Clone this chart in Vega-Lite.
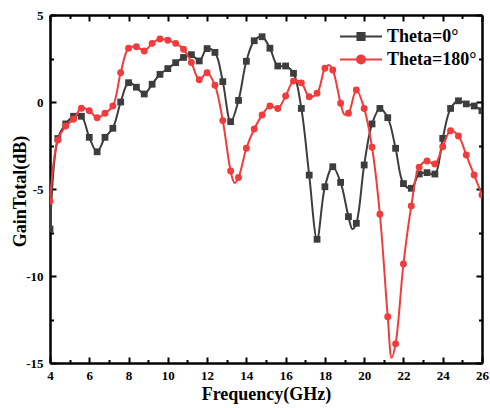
{
  "$schema": "https://vega.github.io/schema/vega-lite/v6.json",
  "width": 432,
  "height": 348,
  "autosize": {"type": "none"},
  "padding": {"left": 50, "top": 15, "right": 8, "bottom": 45},
  "background": "white",
  "config": {
    "view": {"stroke": null},
    "axis": {
      "grid": false,
      "labelFont": "Liberation Serif",
      "labelFontSize": 13,
      "labelFontWeight": "bold",
      "labelColor": "black",
      "labelFlush": false,
      "labelOverlap": false,
      "titleFont": "Liberation Serif",
      "titleFontSize": 18,
      "titleFontWeight": "bold",
      "titleColor": "black",
      "domainColor": "black",
      "domainWidth": 2.5,
      "tickColor": "black",
      "tickWidth": 2
    }
  },
  "datasets": {
    "gain": [
      {"Frequency": 4.0, "Gain": -7.3, "Series": "Theta=0°"},
      {"Frequency": 4.4, "Gain": -2.1, "Series": "Theta=0°"},
      {"Frequency": 4.8, "Gain": -1.26, "Series": "Theta=0°"},
      {"Frequency": 5.2, "Gain": -0.82, "Series": "Theta=0°"},
      {"Frequency": 5.6, "Gain": -0.82, "Series": "Theta=0°"},
      {"Frequency": 6.0, "Gain": -2.03, "Series": "Theta=0°"},
      {"Frequency": 6.4, "Gain": -2.86, "Series": "Theta=0°"},
      {"Frequency": 6.8, "Gain": -2.03, "Series": "Theta=0°"},
      {"Frequency": 7.2, "Gain": -1.51, "Series": "Theta=0°"},
      {"Frequency": 7.6, "Gain": 0.0, "Series": "Theta=0°"},
      {"Frequency": 8.0, "Gain": 1.11, "Series": "Theta=0°"},
      {"Frequency": 8.4, "Gain": 0.85, "Series": "Theta=0°"},
      {"Frequency": 8.8, "Gain": 0.46, "Series": "Theta=0°"},
      {"Frequency": 9.2, "Gain": 1.02, "Series": "Theta=0°"},
      {"Frequency": 9.6, "Gain": 1.59, "Series": "Theta=0°"},
      {"Frequency": 10.0, "Gain": 1.92, "Series": "Theta=0°"},
      {"Frequency": 10.4, "Gain": 2.26, "Series": "Theta=0°"},
      {"Frequency": 10.8, "Gain": 2.56, "Series": "Theta=0°"},
      {"Frequency": 11.2, "Gain": 2.72, "Series": "Theta=0°"},
      {"Frequency": 11.6, "Gain": 2.36, "Series": "Theta=0°"},
      {"Frequency": 12.0, "Gain": 3.07, "Series": "Theta=0°"},
      {"Frequency": 12.4, "Gain": 2.85, "Series": "Theta=0°"},
      {"Frequency": 12.8, "Gain": 1.17, "Series": "Theta=0°"},
      {"Frequency": 13.2, "Gain": -1.13, "Series": "Theta=0°"},
      {"Frequency": 13.6, "Gain": 0.09, "Series": "Theta=0°"},
      {"Frequency": 14.0, "Gain": 2.34, "Series": "Theta=0°"},
      {"Frequency": 14.4, "Gain": 3.52, "Series": "Theta=0°"},
      {"Frequency": 14.8, "Gain": 3.75, "Series": "Theta=0°"},
      {"Frequency": 15.2, "Gain": 3.09, "Series": "Theta=0°"},
      {"Frequency": 15.6, "Gain": 2.07, "Series": "Theta=0°"},
      {"Frequency": 16.0, "Gain": 2.07, "Series": "Theta=0°"},
      {"Frequency": 16.4, "Gain": 1.65, "Series": "Theta=0°"},
      {"Frequency": 16.8, "Gain": -0.37, "Series": "Theta=0°"},
      {"Frequency": 17.2, "Gain": -4.2, "Series": "Theta=0°"},
      {"Frequency": 17.6, "Gain": -7.89, "Series": "Theta=0°"},
      {"Frequency": 18.0, "Gain": -4.87, "Series": "Theta=0°"},
      {"Frequency": 18.4, "Gain": -3.72, "Series": "Theta=0°"},
      {"Frequency": 18.8, "Gain": -4.62, "Series": "Theta=0°"},
      {"Frequency": 19.2, "Gain": -6.59, "Series": "Theta=0°"},
      {"Frequency": 19.4, "Gain": -7.3, "Series": "Theta=0°"},
      {"Frequency": 19.6, "Gain": -6.97, "Series": "Theta=0°"},
      {"Frequency": 20.0, "Gain": -3.62, "Series": "Theta=0°"},
      {"Frequency": 20.4, "Gain": -1.26, "Series": "Theta=0°"},
      {"Frequency": 20.8, "Gain": -0.37, "Series": "Theta=0°"},
      {"Frequency": 21.2, "Gain": -0.9, "Series": "Theta=0°"},
      {"Frequency": 21.6, "Gain": -2.66, "Series": "Theta=0°"},
      {"Frequency": 22.0, "Gain": -4.69, "Series": "Theta=0°"},
      {"Frequency": 22.4, "Gain": -4.96, "Series": "Theta=0°"},
      {"Frequency": 22.8, "Gain": -4.14, "Series": "Theta=0°"},
      {"Frequency": 23.2, "Gain": -4.06, "Series": "Theta=0°"},
      {"Frequency": 23.6, "Gain": -4.14, "Series": "Theta=0°"},
      {"Frequency": 24.0, "Gain": -2.09, "Series": "Theta=0°"},
      {"Frequency": 24.4, "Gain": -0.37, "Series": "Theta=0°"},
      {"Frequency": 24.8, "Gain": 0.07, "Series": "Theta=0°"},
      {"Frequency": 25.2, "Gain": -0.11, "Series": "Theta=0°"},
      {"Frequency": 25.6, "Gain": -0.23, "Series": "Theta=0°"},
      {"Frequency": 26.0, "Gain": -0.5, "Series": "Theta=0°"},
      {"Frequency": 4.0, "Gain": -5.7, "Series": "Theta=180°"},
      {"Frequency": 4.4, "Gain": -2.18, "Series": "Theta=180°"},
      {"Frequency": 4.8, "Gain": -1.38, "Series": "Theta=180°"},
      {"Frequency": 5.2, "Gain": -0.99, "Series": "Theta=180°"},
      {"Frequency": 5.6, "Gain": -0.36, "Series": "Theta=180°"},
      {"Frequency": 6.0, "Gain": -0.5, "Series": "Theta=180°"},
      {"Frequency": 6.4, "Gain": -0.9, "Series": "Theta=180°"},
      {"Frequency": 6.8, "Gain": -0.65, "Series": "Theta=180°"},
      {"Frequency": 7.2, "Gain": -0.23, "Series": "Theta=180°"},
      {"Frequency": 7.6, "Gain": 1.68, "Series": "Theta=180°"},
      {"Frequency": 8.0, "Gain": 3.09, "Series": "Theta=180°"},
      {"Frequency": 8.4, "Gain": 3.18, "Series": "Theta=180°"},
      {"Frequency": 8.8, "Gain": 2.93, "Series": "Theta=180°"},
      {"Frequency": 9.2, "Gain": 3.37, "Series": "Theta=180°"},
      {"Frequency": 9.6, "Gain": 3.62, "Series": "Theta=180°"},
      {"Frequency": 10.0, "Gain": 3.55, "Series": "Theta=180°"},
      {"Frequency": 10.4, "Gain": 3.37, "Series": "Theta=180°"},
      {"Frequency": 10.8, "Gain": 3.03, "Series": "Theta=180°"},
      {"Frequency": 11.2, "Gain": 2.27, "Series": "Theta=180°"},
      {"Frequency": 11.6, "Gain": 1.28, "Series": "Theta=180°"},
      {"Frequency": 12.0, "Gain": 1.68, "Series": "Theta=180°"},
      {"Frequency": 12.4, "Gain": 0.96, "Series": "Theta=180°"},
      {"Frequency": 12.8, "Gain": -1.07, "Series": "Theta=180°"},
      {"Frequency": 13.2, "Gain": -3.97, "Series": "Theta=180°"},
      {"Frequency": 13.4, "Gain": -4.65, "Series": "Theta=180°"},
      {"Frequency": 13.6, "Gain": -4.34, "Series": "Theta=180°"},
      {"Frequency": 14.0, "Gain": -2.66, "Series": "Theta=180°"},
      {"Frequency": 14.4, "Gain": -1.55, "Series": "Theta=180°"},
      {"Frequency": 14.8, "Gain": -0.75, "Series": "Theta=180°"},
      {"Frequency": 15.2, "Gain": -0.23, "Series": "Theta=180°"},
      {"Frequency": 15.6, "Gain": -0.37, "Series": "Theta=180°"},
      {"Frequency": 16.0, "Gain": 0.34, "Series": "Theta=180°"},
      {"Frequency": 16.4, "Gain": 1.2, "Series": "Theta=180°"},
      {"Frequency": 16.8, "Gain": 1.1, "Series": "Theta=180°"},
      {"Frequency": 17.2, "Gain": 0.3, "Series": "Theta=180°"},
      {"Frequency": 17.6, "Gain": 0.5, "Series": "Theta=180°"},
      {"Frequency": 18.0, "Gain": 1.94, "Series": "Theta=180°"},
      {"Frequency": 18.2, "Gain": 2.12, "Series": "Theta=180°"},
      {"Frequency": 18.4, "Gain": 1.84, "Series": "Theta=180°"},
      {"Frequency": 18.8, "Gain": -0.07, "Series": "Theta=180°"},
      {"Frequency": 19.0, "Gain": -0.72, "Series": "Theta=180°"},
      {"Frequency": 19.2, "Gain": -0.65, "Series": "Theta=180°"},
      {"Frequency": 19.6, "Gain": 0.69, "Series": "Theta=180°"},
      {"Frequency": 20.0, "Gain": -0.37, "Series": "Theta=180°"},
      {"Frequency": 20.4, "Gain": -2.6, "Series": "Theta=180°"},
      {"Frequency": 20.8, "Gain": -6.45, "Series": "Theta=180°"},
      {"Frequency": 21.2, "Gain": -12.34, "Series": "Theta=180°"},
      {"Frequency": 21.4, "Gain": -14.7, "Series": "Theta=180°"},
      {"Frequency": 21.6, "Gain": -13.9, "Series": "Theta=180°"},
      {"Frequency": 22.0, "Gain": -9.31, "Series": "Theta=180°"},
      {"Frequency": 22.4, "Gain": -5.98, "Series": "Theta=180°"},
      {"Frequency": 22.8, "Gain": -3.75, "Series": "Theta=180°"},
      {"Frequency": 23.2, "Gain": -3.39, "Series": "Theta=180°"},
      {"Frequency": 23.6, "Gain": -3.56, "Series": "Theta=180°"},
      {"Frequency": 24.0, "Gain": -2.57, "Series": "Theta=180°"},
      {"Frequency": 24.4, "Gain": -1.65, "Series": "Theta=180°"},
      {"Frequency": 24.8, "Gain": -1.95, "Series": "Theta=180°"},
      {"Frequency": 25.2, "Gain": -3.05, "Series": "Theta=180°"},
      {"Frequency": 25.6, "Gain": -4.2, "Series": "Theta=180°"},
      {"Frequency": 26.0, "Gain": -5.34, "Series": "Theta=180°"}
    ]
  },
  "data": {"name": "gain"},
  "resolve": {"axis": {"x": "independent", "y": "independent"}},
  "layer": [
    {
      "transform": [{"filter": "datum.Series === 'Theta=0°'"}],
      "mark": {"type": "line", "interpolate": "catmull-rom", "strokeWidth": 2, "clip": true},
      "encoding": {
        "x": {"field": "Frequency", "type": "quantitative", "scale": {"domain": [4, 26], "nice": false, "zero": false},
          "axis": {"orient": "bottom", "values": [4, 6, 8, 10, 12, 14, 16, 18, 20, 22, 24, 26], "tickSize": -6, "labelPadding": 12, "title": "Frequency(GHz)", "titleY": 22}},
        "y": {"field": "Gain", "type": "quantitative", "scale": {"domain": [-15, 5], "nice": false, "zero": false},
          "axis": {"orient": "left", "values": [-15, -10, -5, 0, 5], "tickSize": -6, "labelPadding": 13, "labelExpr": "datum.value < 0 ? '-' + abs(datum.value) : '' + datum.value", "title": "GainTotal(dB)", "titleX": -21, "titleY": 176}},
        "color": {"field": "Series", "type": "nominal",
          "scale": {"domain": ["Theta=0°", "Theta=180°"], "range": ["#3d3d3d", "#f03c3c"]},
          "legend": {"title": null, "orient": "none", "legendX": 289, "legendY": 10,
            "labelFont": "Liberation Serif", "labelFontSize": 18, "labelFontWeight": "bold", "labelColor": "black",
            "symbolSize": 1764, "clipHeight": 23, "rowPadding": 0, "labelOffset": 4, "padding": 0,
            "symbolStrokeWidth": 2,
            "encode": {"symbols": {"update": {
              "shape": {"signal": "datum.value === 'Theta=0°' ? 'M-1,0H1M-0.17,-0.17H0.17V0.17H-0.17Z' : 'M-1,0H1M0.19,0A0.19,0.19,0,1,1,-0.19,0A0.19,0.19,0,1,1,0.19,0Z'"},
              "fill": {"scale": "color", "field": "value"},
              "stroke": {"scale": "color", "field": "value"},
              "strokeWidth": {"value": 2},
              "size": {"value": 1764},
              "opacity": {"value": 1},
              "fillOpacity": {"value": 1},
              "strokeOpacity": {"value": 1}
            }}}}
        }
      }
    },
    {
      "transform": [{"filter": "datum.Series === 'Theta=0°' && abs(datum.Frequency * 2.5 - round(datum.Frequency * 2.5)) < 0.01"}],
      "mark": {"type": "point", "shape": "square", "filled": true, "size": 46, "opacity": 1, "clip": true},
      "encoding": {
        "x": {"field": "Frequency", "type": "quantitative",
          "axis": {"orient": "top", "values": [4, 6, 8, 10, 12, 14, 16, 18, 20, 22, 24, 26], "tickSize": -6, "labels": false, "title": null}},
        "y": {"field": "Gain", "type": "quantitative",
          "axis": {"orient": "right", "values": [-15, -10, -5, 0, 5], "tickSize": -6, "labels": false, "title": null}},
        "color": {"field": "Series", "type": "nominal"}
      }
    },
    {
      "transform": [{"filter": "datum.Series === 'Theta=180°'"}],
      "mark": {"type": "line", "interpolate": "catmull-rom", "strokeWidth": 2, "clip": true},
      "encoding": {
        "x": {"field": "Frequency", "type": "quantitative",
          "axis": {"orient": "bottom", "values": [5, 7, 9, 11, 13, 15, 17, 19, 21, 23, 25], "tickSize": -3.5, "labels": false, "domain": false, "title": null}},
        "y": {"field": "Gain", "type": "quantitative",
          "axis": {"orient": "left", "values": [-12.5, -7.5, -2.5, 2.5], "tickSize": -3.5, "labels": false, "domain": false, "title": null}},
        "color": {"field": "Series", "type": "nominal"}
      }
    },
    {
      "transform": [{"filter": "datum.Series === 'Theta=180°' && abs(datum.Frequency * 2.5 - round(datum.Frequency * 2.5)) < 0.01"}],
      "mark": {"type": "point", "shape": "circle", "filled": true, "size": 48, "opacity": 1, "clip": true},
      "encoding": {
        "x": {"field": "Frequency", "type": "quantitative",
          "axis": {"orient": "top", "values": [5, 7, 9, 11, 13, 15, 17, 19, 21, 23, 25], "tickSize": -3.5, "labels": false, "domain": false, "title": null}},
        "y": {"field": "Gain", "type": "quantitative",
          "axis": {"orient": "right", "values": [-12.5, -7.5, -2.5, 2.5], "tickSize": -3.5, "labels": false, "domain": false, "title": null}},
        "color": {"field": "Series", "type": "nominal"}
      }
    }
  ]
}
